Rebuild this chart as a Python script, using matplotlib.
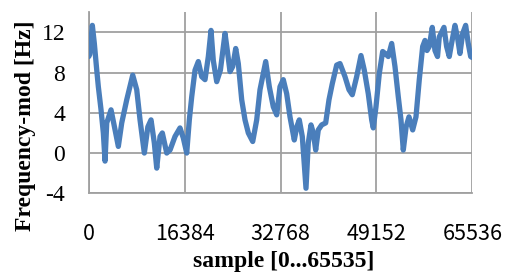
import matplotlib
matplotlib.use("Agg")
import matplotlib.pyplot as plt

# sample index and modulation frequency [Hz]
samples = [0, 170, 615, 957, 1367, 1640, 2101, 2494, 2785, 3075, 3810, 4500, 5057,
           5638, 6492, 7517, 8200, 8765, 9500, 10100, 10644, 11208, 11618, 12182,
           12575, 13326, 13890, 14744, 15598, 16162, 16743, 17187, 17597, 18161,
           18725, 19306, 19870, 20434, 20895, 21288, 21869, 22500, 23287, 23680,
           24141, 24600, 25114, 25558, 26139, 26703, 27267, 28019, 28702, 29266,
           30240, 30855, 31538, 32119, 32683, 33245, 33826, 34390, 35124, 35550,
           35979, 36491, 37124, 37517, 37978, 38380, 38781, 39225, 39807, 40490,
           41054, 41618, 42369, 42933, 43787, 44471, 45035, 45786, 46520, 47084,
           47767, 48348, 48622, 49084, 49648, 50229, 50650, 51186, 51767, 52331,
           52895, 53357, 53750, 54230, 54723, 55355, 55919, 56483, 57064, 57457,
           57800, 58190, 58703, 59164, 59600, 59900, 60703, 61150, 61608, 62000,
           62581, 63000, 63435, 63900, 64409, 64850, 65265, 65535]
freq = [9.6, 9.8, 12.7, 10.9, 8.25, 6.6, 4.3, 2.0, -0.8, 3.0, 4.3, 2.3, 0.66,
        3.0, 5.3, 7.75, 6.3, 3.3, 0.0, 2.6, 3.3, 1.0, -1.5, 1.65,
        2.0, 0.0, 0.3, 1.65, 2.5, 1.5, 0.0, 3.3, 5.6, 8.25,
        9.1, 7.6, 7.3, 9.6, 12.2, 9.2, 7.1, 8.25, 11.9, 10.2,
        8.1, 8.6, 10.4, 8.9, 5.3, 3.3, 2.0, 1.15, 3.3, 6.3,
        9.1, 6.6, 4.6, 3.8, 6.6, 7.3, 5.9, 3.6, 1.3, 2.6,
        3.3, 1.65, -3.5, 1.0, 2.8, 2.0, 0.3, 2.3, 2.8, 3.0,
        5.3, 6.9, 8.75, 8.9, 7.6, 6.3, 5.8, 7.6, 9.7, 8.25,
        5.9, 3.3, 2.5, 4.6, 7.9, 10.1, 9.9, 9.6, 10.9, 8.6,
        5.6, 3.3, 0.3, 2.6, 3.6, 2.3, 3.6, 7.3, 10.6, 11.2,
        10.2, 10.6, 12.5, 10.2, 9.6, 11.55, 12.5, 10.6, 9.6, 10.9,
        12.7, 11.55, 9.9, 11.9, 12.7, 10.9, 9.6, 9.5]

x_ticks = [0, 16384, 32768, 49152, 65536]
y_ticks = [-4, 0, 4, 8, 12]

fig = plt.figure(figsize=(5.1, 2.73), dpi=100)
ax = fig.add_axes([0.174, 0.292, 0.752, 0.663])

grid_c = "#a0a0a0"
ax.plot(samples, freq, color="#4a7ebb", linewidth=3.8, solid_capstyle="round",
        solid_joinstyle="round", zorder=3)

ax.set_xlim(0, 65536)
ax.set_ylim(-4, 14)
ax.set_xticks(x_ticks)
ax.set_yticks(y_ticks)
ax.set_xticklabels([str(v) for v in x_ticks], family=["Noto Sans CJK JP", "DejaVu Sans"],
                   fontsize=15.5)
ax.set_yticklabels([str(v) for v in y_ticks], family="Liberation Serif", fontsize=17)
ax.tick_params(axis="x", length=0, pad=21.5)
ax.tick_params(axis="y", length=0, pad=17)

ax.grid(True, color=grid_c, linewidth=1.3, zorder=0)
for s in ["top", "right"]:
    ax.spines[s].set_visible(False)
for s in ["left", "bottom"]:
    ax.spines[s].set_color(grid_c)
    ax.spines[s].set_linewidth(1.3)

fig.text(26 / 510, 1 - 125.5 / 273, "Frequency-mod [Hz]", rotation=90,
         ha="center", va="center", family="Liberation Serif", fontweight="bold",
         fontsize=17)
fig.text(284 / 510, 1 - 261 / 273, "sample [0...65535]", ha="center", va="center",
         family="Liberation Serif", fontweight="bold", fontsize=17)

fig.savefig("out.png", dpi=100)
